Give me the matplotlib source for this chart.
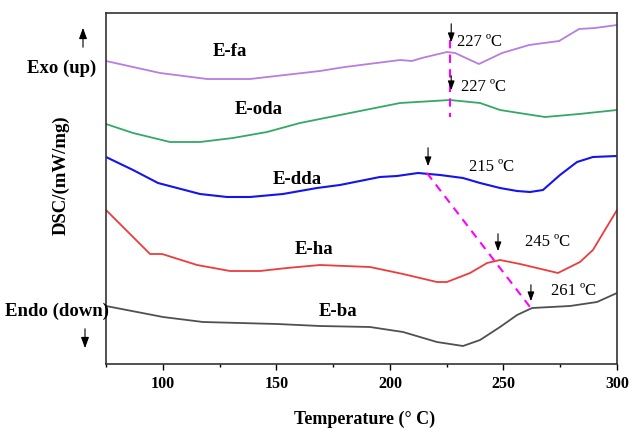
import numpy as np
import matplotlib
matplotlib.use("Agg")
import matplotlib.pyplot as plt
from matplotlib.patches import FancyArrowPatch
from matplotlib.ticker import MultipleLocator

plt.rcParams['font.family'] = ['Liberation Serif', 'DejaVu Serif']

# DSC traces (arbitrary, stacked units)
t_fa = [75, 98.8, 119.5, 138.4, 169.2, 180.2, 204.5, 209.7, 214.1, 225.1, 228.7,
        239.2, 249.4, 261.3, 274.5, 283.3, 290.3, 300]
dsc_fa = [30.3, 29.1, 28.5, 28.5, 29.3, 29.7, 30.4, 30.3, 30.6, 31.2, 31.1,
          30.0, 31.1, 31.9, 32.3, 33.5, 33.6, 33.9]

t_oda = [75, 86.9, 103.2, 116.4, 130.9, 145.9, 160.4, 178.0, 204.5, 226.5,
         239.7, 248.5, 256.9, 268.3, 283.3, 300]
dsc_oda = [24.0, 23.1, 22.2, 22.2, 22.6, 23.2, 24.1, 24.9, 26.1, 26.4,
           26.1, 25.4, 25.1, 24.7, 25.0, 25.4]

t_dda = [75, 86.9, 97.9, 116.4, 128.3, 138.4, 152.9, 167.9, 178.0, 195.6, 203.1,
         212.4, 222.1, 232.2, 239.7, 248.5, 256.0, 261.7, 267.4, 274.9, 282.4,
         289.4, 300]
dsc_dda = [20.7, 19.4, 18.1, 17.0, 16.7, 16.7, 17.0, 17.6, 17.9, 18.7, 18.8,
           19.1, 18.9, 18.6, 18.1, 17.6, 17.3, 17.2, 17.4, 18.9, 20.2,
           20.7, 20.8]

t_ha = [75, 94.4, 99.7, 115.1, 129.6, 142.8, 154.7, 169.2, 191.2, 205.8, 220.7,
        225.1, 235.3, 242.8, 248.5, 257.3, 274.0, 283.7, 289.4, 293.9, 300]
dsc_ha = [15.4, 11.0, 11.0, 9.9, 9.3, 9.3, 9.6, 9.9, 9.7, 9.0, 8.2,
          8.2, 9.1, 10.1, 10.4, 10.0, 9.1, 10.2, 11.4, 13.1, 15.4]

t_ba = [75, 100.1, 117.7, 150.3, 169.2, 191.2, 205.8, 220.7, 232.2, 239.7, 248.5,
        256.0, 262.6, 279.3, 291.2, 300]
dsc_ba = [5.8, 4.7, 4.2, 4.0, 3.8, 3.7, 3.2, 2.2, 1.8, 2.4, 3.7,
          4.9, 5.6, 5.8, 6.2, 7.1]

# peak markers: temperature, arrow start/end, label text
peak_t = [227, 227, 216.8, 247.6, 262.1]
arrow_top = [34.3, 29.1, 21.9, 13.3, 8.2]
arrow_tip = [31.9, 27.1, 19.5, 11.0, 6.0]
peak_txt = ['227 ºC', '227 ºC', '215 ºC', '245 ºC', '261 ºC']
txt_pos = [(229.6, 32.2), (231.3, 27.7), (234.8, 19.7), (259.5, 12.2), (271.0, 7.3)]

# dashed guide lines
guide1_t = [226.5, 226.5]
guide1_v = [32.4, 24.7]
guide2_t = [216.3, 261.7]
guide2_v = [19.1, 5.7]

names = ['E-fa', 'E-oda', 'E-dda', 'E-ha', 'E-ba']
name_pos = [(129.6, 31.2), (142.4, 25.4), (159.1, 18.4), (166.6, 11.4), (177.2, 5.3)]

fig = plt.figure(figsize=(6.32, 4.28), dpi=100)
ax = fig.add_axes([106/632, 1 - 364/428, 511/632, 351/428])

ax.plot(t_fa, dsc_fa, color='#B77DE0', lw=1.3)
ax.plot(t_oda, dsc_oda, color='#34A866', lw=1.3)
ax.plot(t_dda, dsc_dda, color='#1414EE', lw=1.5)
ax.plot(t_ha, dsc_ha, color='#EE3B3B', lw=1.3)
ax.plot(t_ba, dsc_ba, color='#505050', lw=1.3)

ax.plot(guide1_t, guide1_v, color='#FF00FF', lw=1.5, ls=(0, (4, 3)))
ax.plot(guide2_t, guide2_v, color='#FF00FF', lw=1.5, ls=(0, (4, 3)))

head = '-|>,head_length=0.55,head_width=0.2'
for t, a0, a1, s, p in zip(peak_t, arrow_top, arrow_tip, peak_txt, txt_pos):
    ax.annotate('', xy=(t, a1), xytext=(t, a0),
                arrowprops=dict(arrowstyle=head, color='black', lw=0.8))
    ax.text(p[0], p[1], s, fontsize=12, ha='left', va='center')

for n, p in zip(names, name_pos):
    ax.text(p[0], p[1], n, fontsize=13.5, fontweight='bold', ha='center', va='center')

ax.set_xlim(75, 300)
ax.set_ylim(0, 35.1)
ax.set_yticks([])
ax.xaxis.set_major_locator(MultipleLocator(50))
ax.xaxis.set_minor_locator(MultipleLocator(25))
ax.tick_params(axis='x', which='major', direction='out', length=4, width=1,
               pad=5, labelsize=11.5)
ax.tick_params(axis='x', which='minor', direction='out', length=2.5, width=1)
for lab in ax.get_xticklabels():
    lab.set_fontweight('bold')
for sp in ax.spines.values():
    sp.set_color('#333333')
    sp.set_linewidth(1.2)

ax.set_xlabel('Temperature (° C)', fontsize=13, fontweight='bold')
ax.xaxis.set_label_coords((365 - 106)/511, -(411 - 364)/351)
ax.set_ylabel('DSC/(mW/mg)', fontsize=13.5, fontweight='bold')
ax.yaxis.set_label_coords(-(106 - 70)/511, (364 - 175)/351)

fig.text(62/632, 1 - 68/428, 'Exo (up)', fontsize=13.5, fontweight='bold',
         ha='center', va='center')
fig.text(57/632, 1 - 311/428, 'Endo (down)', fontsize=13.5, fontweight='bold',
         ha='center', va='center')
fig.add_artist(FancyArrowPatch((83/632, 1 - 50/428), (83/632, 1 - 25/428),
                               transform=fig.transFigure, arrowstyle=head,
                               mutation_scale=12, color='black', lw=0.8))
fig.add_artist(FancyArrowPatch((85/632, 1 - 326/428), (85/632, 1 - 351/428),
                               transform=fig.transFigure, arrowstyle=head,
                               mutation_scale=12, color='black', lw=0.8))

fig.savefig('out.png', dpi=100)
